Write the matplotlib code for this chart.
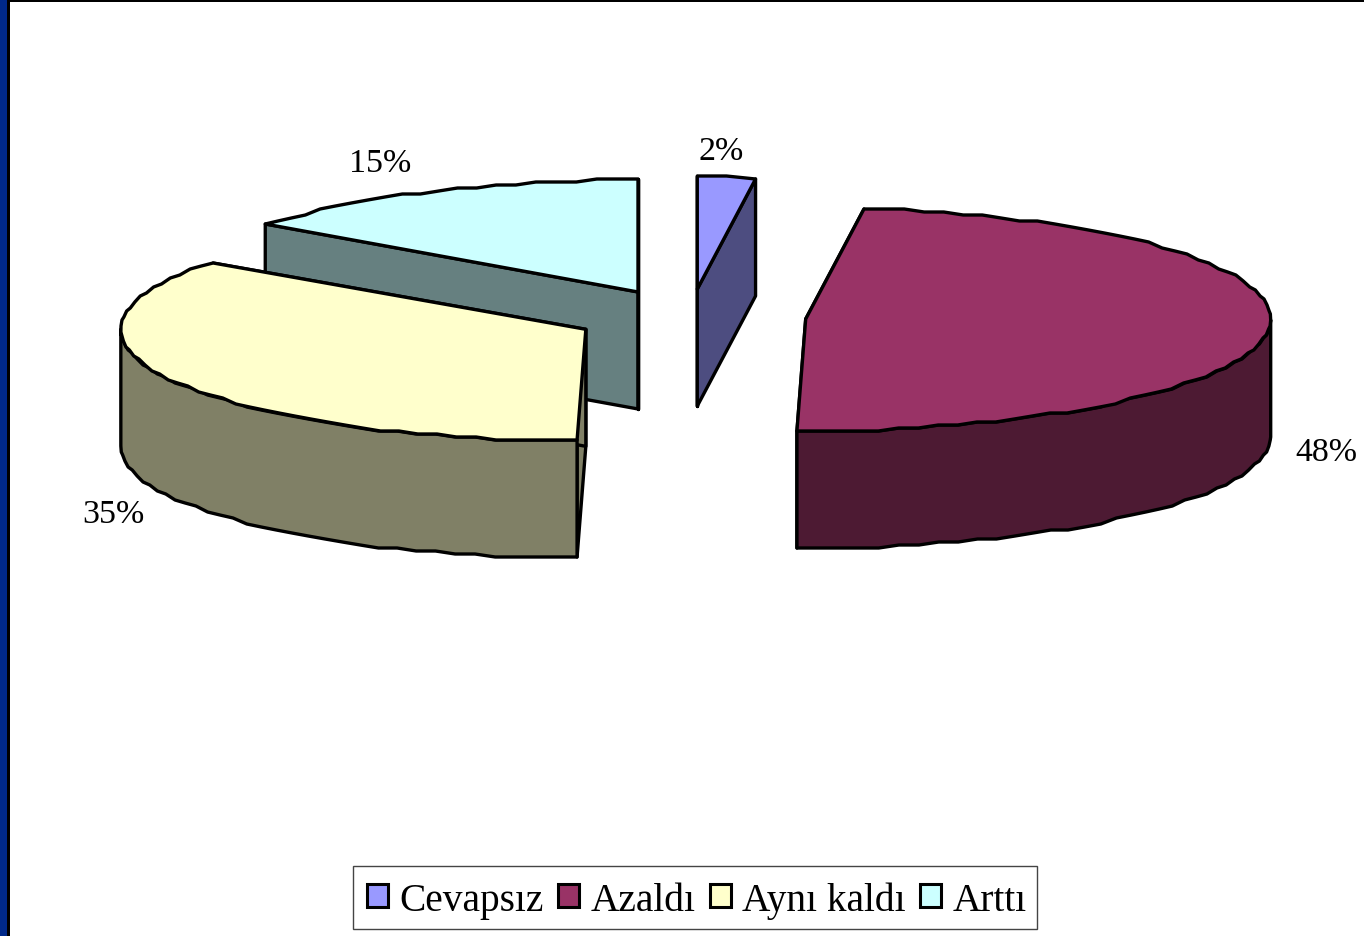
import numpy as np
import matplotlib
matplotlib.use('Agg')
import matplotlib.pyplot as plt
from matplotlib.patches import Polygon, Patch, Rectangle

labels = ['Cevapsız', 'Azaldı', 'Aynı kaldı', 'Arttı']
values = [2.0, 48.3, 34.9, 14.8]
top_colors = ['#9999FF', '#993366', '#FFFFCC', '#CCFFFF']
side_colors = ['#4D4D80', '#4D1A33', '#808066', '#668080']
label_pos = [(721, 152), (1326, 453), (113, 515), (380, 164)]

# pie geometry in pixels
cx, cy = 690, 318
rx, ry = 465, 112
ex, ey = 116, 28
depth = 117
lw = 2.4

plt.rcParams['font.family'] = ['Liberation Serif', 'DejaVu Serif']

fig = plt.figure(figsize=(13.64, 9.37), dpi=100)
ax = fig.add_axes([0, 0, 1, 1])
ax.set_xlim(0, 1364)
ax.set_ylim(937, 0)
ax.axis('off')

# frame of the slide
ax.add_patch(Rectangle((0, 0), 8, 937, color='#00298A', lw=0))
ax.add_patch(Rectangle((7, 0), 3, 937, color='black', lw=0))
ax.add_patch(Rectangle((7, 0), 1357, 3, color='black', lw=0))


def rim(c, t0, t1):
    # outer edge with the coarse steps of the original export
    n = max(int(abs(t1 - t0) / 2.5), 1)
    t = np.radians(np.linspace(t0, t1, n + 1))
    x = c[0] + rx * np.sin(t)
    y = c[1] - ry * np.cos(t)
    y = np.round(y / 3) * 3
    return np.column_stack([x, y])


def add_poly(pts, color):
    ax.add_patch(Polygon(pts, closed=True, facecolor=color, edgecolor='black',
                         lw=lw, joinstyle='round'))


drop = np.array([0, depth])
edges = np.cumsum([0] + values) * 3.6
for i in [3, 0, 1, 2]:
    t0, t1 = edges[i], edges[i + 1]
    mid = np.radians((t0 + t1) / 2)
    c = np.array([cx + ex * np.sin(mid), cy - ey * np.cos(mid)])
    outer = rim(c, t0, t1)
    # cut faces
    for p in (outer[0], outer[-1]):
        add_poly([c, p, p + drop, c + drop], side_colors[i])
    # outer wall, only the part facing the viewer
    a, b = max(t0, 90), min(t1, 270)
    if b > a:
        r = rim(c, a, b)
        add_poly(np.vstack([r, r[::-1] + drop]), side_colors[i])
    add_poly(np.vstack([[c], outer]), top_colors[i])

for i in range(4):
    ax.text(label_pos[i][0], label_pos[i][1], '%d%%' % round(values[i]),
            fontsize=24.5, ha='center', va='center', color='black')

# legend box is drawn on its own, its padding differs in x and y
ax.add_patch(Rectangle((353, 867), 684, 63, facecolor='white', edgecolor='#444444', lw=1))
handles = [Patch(facecolor=top_colors[i], edgecolor='black', lw=2.2, label=labels[i])
           for i in range(4)]
ax.legend(handles=handles, ncol=4, loc='center', bbox_to_anchor=(697, 901),
          bbox_transform=ax.transData, fontsize=28.4, frameon=False,
          handlelength=0.53, handleheight=0.53, handletextpad=0.29,
          columnspacing=0.36, borderpad=0, borderaxespad=0)

fig.savefig('out.png', dpi=100)
